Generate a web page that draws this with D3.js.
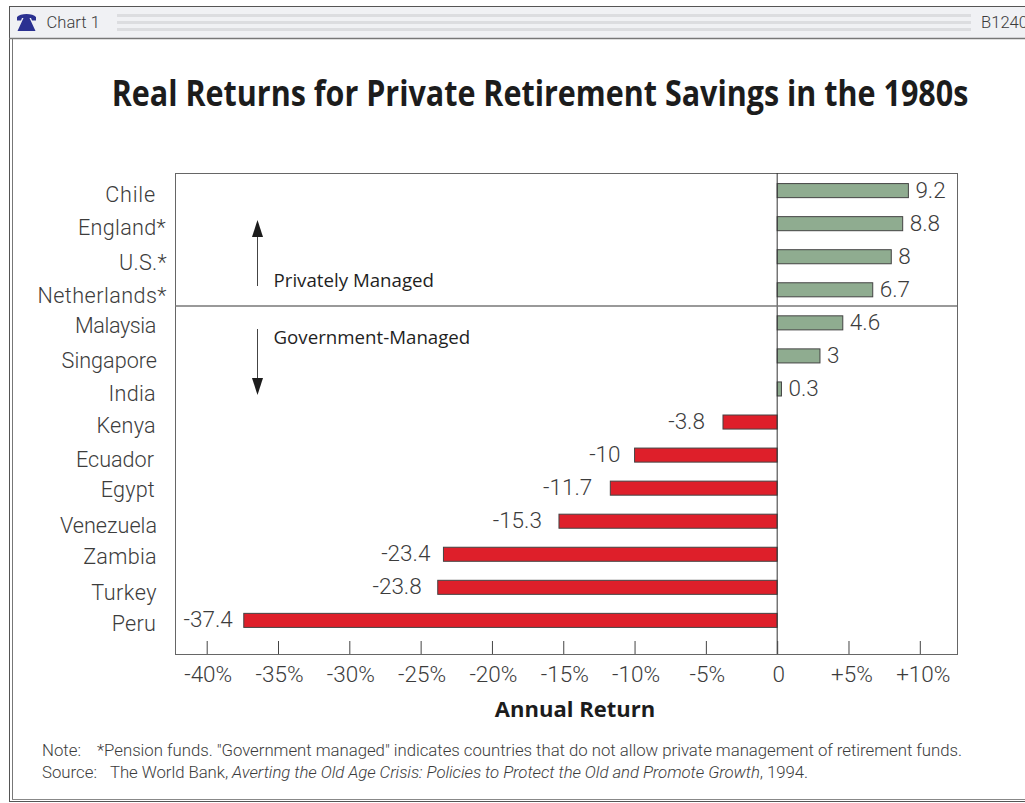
<!DOCTYPE html>
<html>
<head>
<meta charset="utf-8">
<script src="https://cdn.jsdelivr.net/npm/d3@7/dist/d3.min.js"></script>
<style>
html,body{margin:0;padding:0;background:#fff;overflow:hidden}
svg{display:block}
text{font-family:Roboto,Lato,sans-serif;fill:#3c3c3c}
</style>
</head>
<body>
<svg id="chart" width="1025" height="803"></svg>
<script>
const countries = ["Chile","England*","U.S.*","Netherlands*","Malaysia","Singapore","India","Kenya","Ecuador","Egypt","Venezuela","Zambia","Turkey","Peru"];
const returns = [9.2,8.8,8,6.7,4.6,3,0.3,-3.8,-10,-11.7,-15.3,-23.4,-23.8,-37.4];
const tickValues = [-40,-35,-30,-25,-20,-15,-10,-5,0,5,10];
const tickLabels = ["-40%","-35%","-30%","-25%","-20%","-15%","-10%","-5%","0","+5%","+10%"];
const noteBody = "*Pension funds. \"Government managed\" indicates countries that do not allow private management of retirement funds.";

// Hand-set typesetting offsets for the category column and negative value labels
const labelRight = [156,166,167,167,156,157,156,156,154,155,157,157,157,156];
const labelShift = [-1,-1,1,1,-2,0,0,-1,0,-3,0,-2,1,-1];
const labelTracking = [0.8,0.3,0.3,0.45,-0.4,0,0.3,0.3,0,0.2,0,0.3,0.5,0.2];
const negativeGap = {"-3.8":18,"-10":14,"-11.7":18,"-15.3":17,"-23.4":13,"-23.8":16,"-37.4":11};

const plot = {left:175, right:957, top:173, bottom:654};
const svg = d3.select("#chart");

const x = d3.scaleLinear().domain([-40,10]).range([206.7,919.8]);
const y = d3.scaleBand().domain(countries).range([174,637]).paddingInner(0.575).paddingOuter(0.29);
const GREEN = "#8fac90", RED = "#de1f2a";

// Window frame and header strip
const frame = svg.append("g");
frame.append("rect").attr("x",9.5).attr("y",6.5).attr("width",1030).attr("height",795).attr("fill","#fff").attr("stroke","#555");
frame.append("rect").attr("x",10).attr("y",7).attr("width",1020).attr("height",31).attr("fill","#f0f1f4");
frame.append("line").attr("x1",9).attr("x2",1025).attr("y1",38.5).attr("y2",38.5).attr("stroke","#777").attr("stroke-width",1.5);
frame.append("line").attr("x1",12.5).attr("x2",12.5).attr("y1",38).attr("y2",799).attr("stroke","#777");
frame.append("line").attr("x1",12).attr("x2",1025).attr("y1",799.5).attr("y2",799.5).attr("stroke","#888");
[14,21,28].forEach(v => frame.append("rect").attr("x",117).attr("y",v).attr("width",854).attr("height",3).attr("fill","#dcdde0"));
frame.append("path").attr("fill","#2b3191")
  .attr("d","M17 17 C20 13 33 13 36 17 L36 20.5 L32 20.5 L31 18 L22 18 L21 20.5 L17 20.5 Z M23.5 18 L29.5 18 L35.5 31 L17.5 31 Z");
frame.append("text").attr("x",46.5).attr("y",28).attr("font-size",16.6).style("font-weight",300).text("Chart 1");
frame.append("text").attr("x",981).attr("y",28).attr("font-size",16.6).style("font-weight",300).text("B1240");

// Title, narrowed horizontally to its set measure
const title = svg.append("text").attr("text-anchor","middle")
  .style("font-family","'Open Sans',sans-serif").style("font-weight",700).style("fill","#1c1c1c")
  .attr("font-size",36).text("Real Returns for Private Retirement Savings in the 1980s");
title.attr("transform",`translate(540,106) scale(${857/title.node().getComputedTextLength()},1)`);

// Plot box
svg.append("rect").attr("x",plot.left+.5).attr("y",plot.top+.5)
  .attr("width",plot.right-plot.left).attr("height",plot.bottom-plot.top)
  .attr("fill","none").attr("stroke","#666");

// Bars
svg.append("g").selectAll("rect").data(countries).join("rect")
  .attr("x",(d,i)=>x(Math.min(0,returns[i])))
  .attr("y",d=>y(d))
  .attr("width",(d,i)=>Math.abs(x(returns[i])-x(0)))
  .attr("height",y.bandwidth())
  .attr("fill",(d,i)=>returns[i]<0?RED:GREEN)
  .attr("stroke","#444").attr("stroke-width",1);

// Zero line
svg.append("line").attr("x1",x(0)).attr("x2",x(0)).attr("y1",plot.top).attr("y2",plot.bottom).attr("stroke","#333");

// Value labels
svg.append("g").selectAll("text").data(countries).join("text")
  .attr("x",(d,i)=>returns[i]<0?x(returns[i])-negativeGap[returns[i]]:x(returns[i])+7)
  .attr("y",d=>y(d)+y.bandwidth()/2+7)
  .attr("text-anchor",(d,i)=>returns[i]<0?"end":"start")
  .style("font-weight",300).attr("font-size",22.5)
  .text((d,i)=>returns[i]);

// Category labels
svg.append("g").selectAll("text").data(countries).join("text")
  .attr("x",(d,i)=>labelRight[i])
  .attr("y",(d,i)=>y(d)+y.bandwidth()/2+12+labelShift[i])
  .attr("text-anchor","end")
  .style("font-weight",300).attr("font-size",21.6)
  .style("letter-spacing",(d,i)=>labelTracking[i]+"px")
  .text(d=>d);

// Bottom axis
const axis = d3.axisBottom(x).tickValues(tickValues).tickSize(0).tickPadding(20)
  .tickFormat((d,i)=>tickLabels[i]);
const axisG = svg.append("g").attr("transform",`translate(0,${plot.bottom})`).call(axis);
axisG.select(".domain").remove();
axisG.selectAll("text").style("font-family","Roboto,sans-serif").style("font-weight",300).attr("font-size",22.5).attr("dy",0).attr("y",28).attr("x",d=>d>0?3:1);
axisG.selectAll(".tick").append("line").attr("y1",-13).attr("y2",0).attr("stroke","#444");
svg.append("text").attr("x",575).attr("y",717).attr("text-anchor","middle")
  .style("font-family","'Open Sans',sans-serif").style("font-weight",700).style("fill","#1c1c1c").attr("font-size",22).text("Annual Return");

// Divider between management regimes with direction markers
svg.append("line").attr("x1",175).attr("x2",957).attr("y1",306).attr("y2",306).attr("stroke","#777").attr("stroke-width",1.5);
const arrows = [[257.5,286,220],[257.5,329,395]];
arrows.forEach(([ax,from,to])=>{
  const s = to<from?1:-1;
  svg.append("line").attr("x1",ax).attr("x2",ax).attr("y1",from).attr("y2",to+s*14).attr("stroke","#444");
  svg.append("path").attr("fill","#1c1c1c").attr("d",`M${ax} ${to} L${ax-5.5} ${to+s*17} L${ax+5.5} ${to+s*17} Z`);
});
["Privately Managed","Government-Managed"].forEach((t,i)=>{
  svg.append("text").attr("x",273.5).attr("y",i?344:287)
    .style("font-family","'Open Sans',sans-serif").style("font-weight",500).style("fill","#1f1f1f")
    .attr("font-size",18.7).text(t);
});

// Footnotes
svg.append("text").attr("x",42).attr("y",756).attr("font-size",16.8).style("font-weight",300).text("Note:");
svg.append("text").attr("x",97).attr("y",756).attr("font-size",16.8).style("font-weight",300)
  .attr("textLength",865).attr("lengthAdjust","spacing").text(noteBody);
svg.append("text").attr("x",42).attr("y",778).attr("font-size",16.8).style("font-weight",300).text("Source:");
const src = svg.append("text").attr("x",110).attr("y",778).attr("font-size",16.8).style("font-weight",300)
  .attr("textLength",698).attr("lengthAdjust","spacing");
src.append("tspan").text("The World Bank, ");
src.append("tspan").style("font-style","italic").text("Averting the Old Age Crisis: Policies to Protect the Old and Promote Growth");
src.append("tspan").text(", 1994.");
</script>
</body>
</html>
